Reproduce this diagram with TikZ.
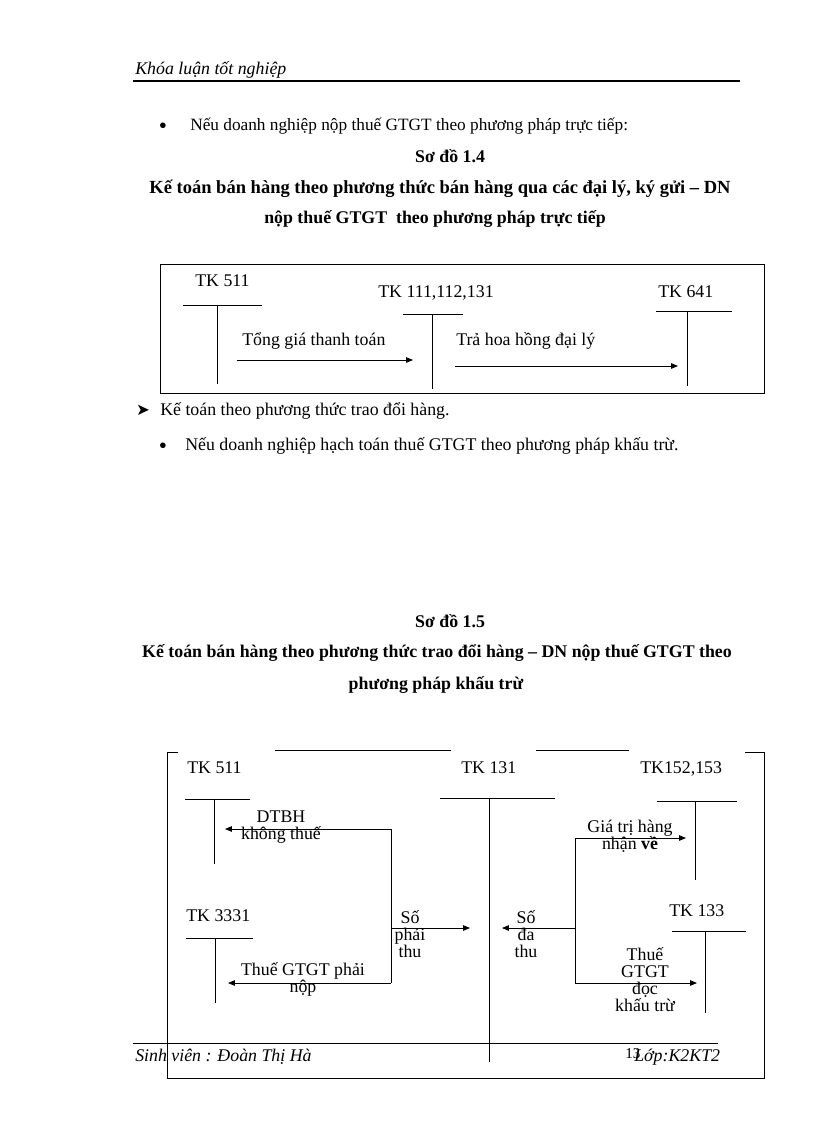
\documentclass[tikz,border=0pt]{standalone}
\usepackage{fontspec}
\setmainfont{Liberation Serif}
\newfontfamily\symfont{DejaVu Sans}
\usetikzlibrary{positioning}
\usetikzlibrary{arrows.meta}
\tikzset{body/.style={font=\fontsize{13}{15}\selectfont, inner sep=0pt},
title/.style={font=\bfseries\fontsize{13}{15}\selectfont, inner sep=0pt},
tk/.style={font=\fontsize{13}{15}\selectfont, inner sep=0pt, anchor=base west},
lbl/.style={font=\fontsize{13}{12.4}\selectfont, align=center, inner sep=0pt},
dot/.style={font=\fontsize{17}{17}\selectfont, inner sep=0pt},
acct/.style={line width=0.6pt},
flow/.style={line width=0.6pt, -{Triangle[length=5pt,width=4pt]}}}

\begin{document}
\begin{tikzpicture}[x=0.729pt, y=-0.729pt]
\useasboundingbox (0,0) rectangle (816,1123);
% header
\node[body, anchor=base west, font=\itshape\fontsize{13}{15}\selectfont] (head) at (135,75) {Khóa luận tốt nghiệp};
\draw[line width=1.4pt] (133,81) -- (740,81);
\node[dot] (bul1) at (163,128) {\textbullet};
\node[body, anchor=base west, font=\fontsize{12.6}{15}\selectfont] (txt1) at (190,131) {Nếu doanh nghiệp nộp thuế GTGT theo phương pháp trực tiếp:};
\node[title, anchor=base] (so14) at (450,163) {Sơ đồ 1.4};
\node[title, anchor=base, font=\bfseries\fontsize{13.5}{15}\selectfont] (ti14a) at (440,194) {Kế toán bán hàng theo phương thức bán hàng qua các đại lý, ký gửi – DN};
\node[title, anchor=base] (ti14b) at (435,224) {nộp thuế GTGT\ \ theo phương pháp trực tiếp};
% so do 1.4
\draw[line width=0.7pt] (160,264) rectangle (764,393);
\node[tk] (b511) at (195,286) {TK 511};
\node[tk] (b111) at (378,297) {TK 111,112,131};
\node[tk] (b641) at (658,297) {TK 641};
\coordinate (b511l) at (183,305); \coordinate (b511r) at (262,305);
\coordinate (b511t) at (217,305); \coordinate (b511e) at (217,384);
\coordinate (b111l) at (403,314); \coordinate (b111r) at (463,314);
\coordinate (b111t) at (432,314); \coordinate (b111e) at (432,389);
\coordinate (b641l) at (656,311); \coordinate (b641r) at (732,311);
\coordinate (b641t) at (687,311); \coordinate (b641e) at (687,386);
\draw[acct] (b511l) -- (b511r) (b511t) -- (b511e);
\draw[acct] (b111l) -- (b111r) (b111t) -- (b111e);
\draw[acct] (b641l) -- (b641r) (b641t) -- (b641e);
\coordinate (f1s) at (237,360); \coordinate (f1e) at (413,360);
\coordinate (f2s) at (455,366); \coordinate (f2e) at (678,366);
\draw[flow] (f1s) -- (f1e);
\draw[flow] (f2s) -- (f2e);
\node[body, anchor=base west] (tong) at (242,345) {Tổng giá thanh toán};
\node[body, anchor=base west] (hoa) at (456,345) {Trả hoa hồng đại lý};
% text between
\node[body, font=\symfont\fontsize{12}{13}\selectfont] (arr) at (143,410) {➤};
\node[body, anchor=base west] (txt2) at (160,415) {Kế toán theo phương thức trao đổi hàng.};
\node[dot] (bul2) at (163,448) {\textbullet};
\node[body, anchor=base west] (txt3) at (185,450) {Nếu doanh nghiệp hạch toán thuế GTGT theo phương pháp khấu trừ.};
\node[title, anchor=base] (so15) at (450,627) {Sơ đồ 1.5};
\node[title, anchor=base] (ti15a) at (437,657) {Kế toán bán hàng theo phương thức trao đổi hàng – DN nộp thuế GTGT theo};
\node[title, anchor=base] (ti15b) at (436,689) {phương pháp khấu trừ};
% so do 1.5
\draw[line width=0.7pt] (178,752) -- (167,752) -- (167,1078) -- (764,1078) -- (764,752) -- (745,752);
\draw[line width=0.7pt] (275,750) -- (451,750) (536,750) -- (629,750);
\node[tk] (c511) at (187,773) {TK 511};
\node[tk] (c131) at (461,773) {TK 131};
\node[tk] (c152) at (640,773) {TK152,153};
\node[tk] (c3331) at (186,921) {TK 3331};
\node[tk] (c133) at (669,916) {TK 133};
\coordinate (c511l) at (185,799); \coordinate (c511r) at (250,799);
\coordinate (c511t) at (214,799); \coordinate (c511e) at (214,864);
\coordinate (c131l) at (440,798); \coordinate (c131r) at (555,798);
\coordinate (c131t) at (489,798); \coordinate (c131e) at (489,1062);
\coordinate (c152l) at (657,801); \coordinate (c152r) at (737,801);
\coordinate (c152t) at (695,801); \coordinate (c152e) at (695,880);
\coordinate (c3331l) at (186,938); \coordinate (c3331r) at (253,938);
\coordinate (c3331t) at (215,938); \coordinate (c3331e) at (215,1003);
\coordinate (c133l) at (672,931); \coordinate (c133r) at (746,931);
\coordinate (c133t) at (705,931); \coordinate (c133e) at (705,1013);
\draw[acct] (c511l) -- (c511r) (c511t) -- (c511e);
\draw[acct] (c131l) -- (c131r) (c131t) -- (c131e);
\draw[acct] (c152l) -- (c152r) (c152t) -- (c152e);
\draw[acct] (c3331l) -- (c3331r) (c3331t) -- (c3331e);
\draw[acct] (c133l) -- (c133r) (c133t) -- (c133e);
% left branch
\coordinate (ja) at (391,829); \coordinate (jb) at (391,928); \coordinate (jc) at (391,983);
\coordinate (ea) at (225,829); \coordinate (eb) at (470,928); \coordinate (ec) at (228,983);
\draw[acct] (ja) -- (jc);
\draw[flow] (ja) -- (ea);
\draw[flow] (jb) -- (eb);
\draw[flow] (jc) -- (ec);
% right branch
\coordinate (ka) at (575,838); \coordinate (kb) at (575,928); \coordinate (kc) at (575,983);
\coordinate (ga) at (686,838); \coordinate (gb) at (502,928); \coordinate (gc) at (697,983);
\draw[acct] (ka) -- (kc);
\draw[flow] (ka) -- (ga);
\draw[flow] (kb) -- (gb);
\draw[flow] (kc) -- (gc);
\node[lbl] (dtbh) at (281,827) {DTBH\\không thuế};
\node[lbl] (phai) at (410,934) {Số\\phải\\thu};
\node[lbl] (thuegt) at (303,979) {Thuế GTGT phải\\nộp};
\node[lbl] (da) at (526,934) {Số\\đa\\thu};
\node[lbl] (gia) at (630,836) {Giá trị hàng\\nhận \textbf{về}};
\node[lbl] (khau) at (645,980) {Thuế\\GTGT\\đọc\\khấu trừ};
% footer
\draw[line width=0.5pt] (133,1043) -- (718,1043);
\node[body, anchor=base west, font=\itshape\fontsize{13}{15}\selectfont] (sv) at (135,1061) {Sinh viên : Đoàn Thị Hà};
\node[body, anchor=base west, font=\fontsize{11}{12}\selectfont] (page) at (625,1058) {13};
\node[body, anchor=base west, font=\itshape\fontsize{13}{15}\selectfont] (lop) at (634,1061) {Lớp:K2KT2};
\end{tikzpicture}
\end{document}
